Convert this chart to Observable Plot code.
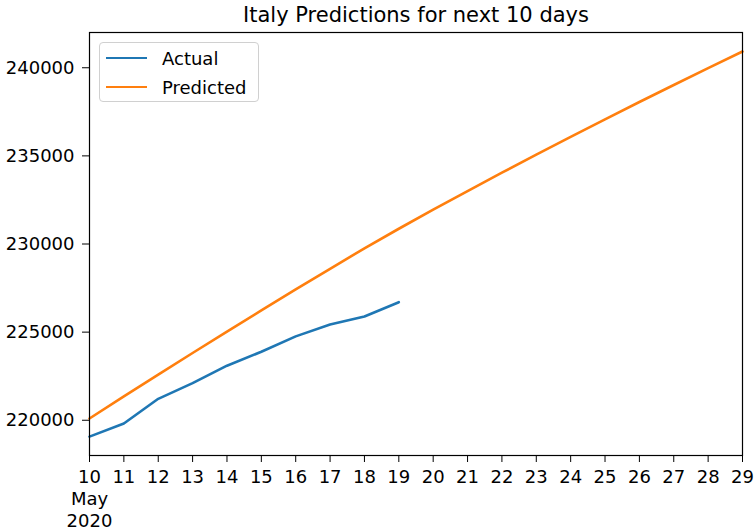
<!DOCTYPE html>
<html>
<head>
<meta charset="utf-8">
<script src="https://cdn.jsdelivr.net/npm/d3@7"></script>
<script src="https://cdn.jsdelivr.net/npm/@observablehq/plot@0.6"></script>
<style>
  html, body { margin: 0; padding: 0; background: #fff; }
  #wrap { position: relative; width: 755px; height: 530px; font-family: "DejaVu Sans", sans-serif; }
  #legend {
    position: absolute; left: 99px; top: 42px; width: 160px; height: 60px;
    border: 1px solid #d0d0d0; border-radius: 4px; background: rgba(255,255,255,0.8);
    font-size: 18px; color: #000; box-sizing: border-box;
  }
  .item { position: absolute; left: 6px; height: 20px; display: flex; align-items: center; }
  .sw { width: 41px; height: 0; border-top: 2.6px solid; margin-right: 15px; }
</style>
</head>
<body>
<div id="wrap"></div>
<script>
const title = "Italy Predictions for next 10 days";
const seriesNames = ["Actual", "Predicted"];
const seriesColors = ["#1f77b4", "#ff7f0e"];

const actualDates = ["2020-05-10","2020-05-11","2020-05-12","2020-05-13","2020-05-14",
  "2020-05-15","2020-05-16","2020-05-17","2020-05-18","2020-05-19"];
const actualValues = [219070, 219814, 221216, 222104, 223096, 223885, 224760, 225435, 225886, 226699];

const predictedDates = ["2020-05-10","2020-05-11","2020-05-12","2020-05-13","2020-05-14",
  "2020-05-15","2020-05-16","2020-05-17","2020-05-18","2020-05-19","2020-05-20","2020-05-21",
  "2020-05-22","2020-05-23","2020-05-24","2020-05-25","2020-05-26","2020-05-27","2020-05-28","2020-05-29"];
const predictedValues = [220100, 221350, 222590, 223815, 225030, 226230, 227420, 228595, 229755, 230865,
  231945, 233005, 234045, 235070, 236080, 237075, 238055, 239020, 239975, 240920];

const yTicks = [220000, 225000, 230000, 235000, 240000];
const xDomain = ["2020-05-10", "2020-05-29"];
const yDomain = [218000, 242000];

const parse = d3.utcParse("%Y-%m-%d");
const actual = actualDates.map((d, i) => ({date: parse(d), value: actualValues[i], series: seriesNames[0]}));
const predicted = predictedDates.map((d, i) => ({date: parse(d), value: predictedValues[i], series: seriesNames[1]}));
const xTicks = d3.utcDay.range(parse(xDomain[0]), d3.utcDay.offset(parse(xDomain[1]), 1));

const fmtX = (d, i) => i === 0 ? `${d.getUTCDate()}\nMay\n2020` : `${d.getUTCDate()}`;

const chart = Plot.plot({
  width: 755,
  height: 530,
  marginLeft: 89,
  marginRight: 13,
  marginTop: 32,
  marginBottom: 75,
  style: {fontFamily: "DejaVu Sans, sans-serif", fontSize: "18px", color: "#000", background: "#fff"},
  x: {type: "utc", domain: xDomain.map(parse)},
  y: {domain: yDomain},
  marks: [
    Plot.axisY({ticks: yTicks, tickFormat: d => String(d), tickSize: 7, tickPadding: 8, label: null, fontSize: 18}),
    Plot.axisX({ticks: xTicks, tickFormat: fmtX, tickSize: 7, tickPadding: 5, label: null, fontSize: 18, lineHeight: 1.22}),
    Plot.line(actual, {x: "date", y: "value", stroke: seriesColors[0], strokeWidth: 2.6}),
    Plot.line(predicted, {x: "date", y: "value", stroke: seriesColors[1], strokeWidth: 2.6}),
    Plot.frame({stroke: "#000", strokeWidth: 1.2}),
    Plot.text([title], {frameAnchor: "top", dy: -11, fontSize: 21, fill: "#000", lineAnchor: "bottom"})
  ]
});

const wrap = document.getElementById("wrap");
wrap.appendChild(chart);

const legend = document.createElement("div");
legend.id = "legend";
seriesNames.forEach((name, i) => {
  const item = document.createElement("div");
  item.className = "item";
  item.style.top = (5 + i * 29) + "px";
  const sw = document.createElement("span");
  sw.className = "sw";
  sw.style.borderColor = seriesColors[i];
  const lab = document.createElement("span");
  lab.textContent = name;
  item.appendChild(sw);
  item.appendChild(lab);
  legend.appendChild(item);
});
wrap.appendChild(legend);
</script>
</body>
</html>
